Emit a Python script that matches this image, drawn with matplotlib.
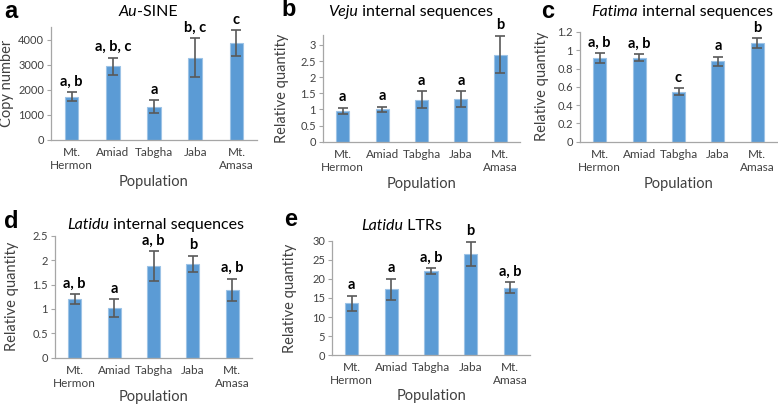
import matplotlib
matplotlib.use("Agg")
import matplotlib.pyplot as plt
import numpy as np

plt.rcParams['font.family'] = ['Lato', 'DejaVu Sans']

populations = ["Mt.\nHermon", "Amiad", "Tabgha", "Jaba", "Mt.\nAmasa"]

# a: Au-SINE copy number
a_vals = [1720, 2940, 1325, 3285, 3860]
a_err = [180, 340, 260, 770, 510]
a_sig = ["a, b", "a, b, c", "a", "b, c", "c"]

# b: Veju internal sequences
b_vals = [0.96, 1.00, 1.30, 1.33, 2.70]
b_err = [0.10, 0.09, 0.26, 0.24, 0.58]
b_sig = ["a", "a", "a", "a", "b"]

# c: Fatima internal sequences
c_vals = [0.915, 0.92, 0.545, 0.88, 1.08]
c_err = [0.05, 0.035, 0.037, 0.05, 0.05]
c_sig = ["a, b", "a, b", "c", "a", "b"]

# d: Latidu internal sequences
d_vals = [1.20, 1.02, 1.88, 1.92, 1.39]
d_err = [0.10, 0.18, 0.30, 0.17, 0.23]
d_sig = ["a, b", "a", "a, b", "b", "a, b"]

# e: Latidu LTRs
e_vals = [13.6, 17.3, 22.1, 26.6, 17.7]
e_err = [2.0, 2.8, 0.8, 3.1, 1.4]
e_sig = ["a", "a", "a, b", "b", "a, b"]

W, H = 778, 405
fig = plt.figure(figsize=(W / 100, H / 100), dpi=100)

BAR = "#5B9BD5"
EDGE = "#9DC3E6"
ERR = "#595959"
TXT = "#404040"
SPINE = "#A6A6A6"


def make_panel(letter, letter_xy, title_it, title_rest, title_xy, rect,
               vals, errs, sigs, ylim, yticks, yticklabels, ylabel, ylab_off, xlab_off=42):
    left, right, top, bottom = rect
    ax = fig.add_axes([left / W, (H - bottom) / H, (right - left) / W, (bottom - top) / H])
    x = np.arange(len(vals))
    ax.bar(x, vals, width=0.33, color=BAR, edgecolor=EDGE, linewidth=0.8, zorder=2)
    ax.errorbar(x, vals, yerr=errs, fmt='none', ecolor=ERR, elinewidth=1.2,
                capsize=3.3, capthick=1.2, zorder=3)
    for xi, v, e, s in zip(x, vals, errs, sigs):
        ax.annotate(s, (xi, v + e), xytext=(0, 2.5), textcoords='offset points',
                    ha='center', va='bottom', fontsize=10.5, fontweight='bold', color='black')
    ax.set_xlim(-0.5, len(vals) - 0.5)
    ax.set_ylim(*ylim)
    ax.set_yticks(yticks)
    ax.set_yticklabels(yticklabels)
    ax.set_xticks(x)
    ax.set_xticklabels(populations, linespacing=1.25)
    for sp in ['top', 'right']:
        ax.spines[sp].set_visible(False)
    ax.spines['left'].set_color(SPINE)
    ax.spines['bottom'].set_color(SPINE)
    ax.spines['left'].set_linewidth(0.9)
    ax.spines['bottom'].set_linewidth(0.9)
    ax.tick_params(axis='y', length=3, color=SPINE, labelsize=8, labelcolor=TXT, pad=2)
    ax.tick_params(axis='x', length=0, labelsize=8.5, labelcolor=TXT, pad=5)
    ax.set_xlabel("Population", fontsize=10.5, color=TXT)
    ax.xaxis.set_label_coords(0.5, -xlab_off / (bottom - top), transform=ax.transAxes)
    ax.xaxis.label.set_va('center')
    ax.set_ylabel(ylabel, fontsize=10.5, color=TXT)
    ax.yaxis.set_label_coords(ylab_off / (right - left), 0.5, transform=ax.transAxes)
    ax.yaxis.label.set_va('center')
    # panel letter
    fig.text(letter_xy[0] / W, 1 - letter_xy[1] / H, letter, fontsize=17, fontweight='bold',
             family=['Liberation Sans', 'DejaVu Sans'], ha='left', va='center', color='black')
    # title: italic part then regular part
    fig.text(title_xy[0] / W, 1 - title_xy[1] / H, title_it, fontsize=11.5, style='italic',
             ha='right', va='center', color='black')
    fig.text(title_xy[0] / W, 1 - title_xy[1] / H, title_rest, fontsize=11.5,
             ha='left', va='center', color='black')
    return ax


make_panel("a", (4, 12), "Au", "-SINE", (137, 12), (51, 257, 27, 140),
           a_vals, a_err, a_sig, (0, 4500), [0, 1000, 2000, 3000, 4000],
           ["0", "1000", "2000", "3000", "4000"], "Copy number", -44)

make_panel("b", (281, 10), "Veju", " internal sequences", (358, 12), (323, 520, 35, 141.7),
           b_vals, b_err, b_sig, (0, 3.31), [0, 0.5, 1, 1.5, 2, 2.5, 3],
           ["0", "0.5", "1", "1.5", "2", "2.5", "3"], "Relative quantity", -41)

make_panel("c", (541, 12), "Fatima", " internal sequences", (638, 12), (580, 777, 32, 141.7),
           c_vals, c_err, c_sig, (0, 1.2), [0, 0.2, 0.4, 0.6, 0.8, 1, 1.2],
           ["0", "0.2", "0.4", "0.6", "0.8", "1", "1.2"], "Relative quantity", -38)

make_panel("d", (4, 222), "Latidu", " internal sequences", (109, 225), (55, 252, 235.7, 357.7),
           d_vals, d_err, d_sig, (0, 2.5), [0, 0.5, 1, 1.5, 2, 2.5],
           ["0", "0.5", "1", "1.5", "2", "2.5"], "Relative quantity", -43, xlab_off=39)

make_panel("e", (284, 220), "Latidu", " LTRs", (403, 226), (332, 530, 240.7, 355.3),
           e_vals, e_err, e_sig, (0, 30), [0, 5, 10, 15, 20, 25, 30],
           ["0", "5", "10", "15", "20", "25", "30"], "Relative quantity", -42, xlab_off=41)

fig.savefig("out.png", dpi=100)
